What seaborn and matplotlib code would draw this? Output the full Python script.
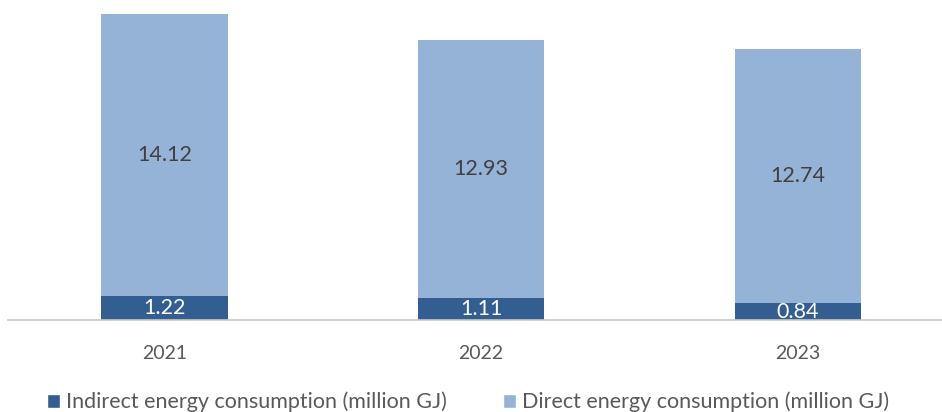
import matplotlib
matplotlib.use("Agg")
import matplotlib.pyplot as plt
import pandas as pd
import seaborn as sns
from matplotlib.patches import Patch

years = ["2021", "2022", "2023"]
indirect = [1.22, 1.11, 0.84]
direct = [14.12, 12.93, 12.74]
series_labels = ["Indirect energy consumption (million GJ)", "Direct energy consumption (million GJ)"]

DARK = "#335E91"
LIGHT = "#95B3D7"

sns.set_theme(style="white")
plt.rcParams["font.family"] = ["Lato", "DejaVu Sans"]

df = pd.DataFrame({"year": years, "indirect": indirect, "direct": direct})
df["total"] = df["indirect"] + df["direct"]

fig = plt.figure(figsize=(9.42, 4.12), dpi=100)
ax = fig.add_axes([0.008, 92 / 412, 0.992, 320 / 412])

# stacked bars: totals in light, indirect overlaid in dark
sns.barplot(data=df, x="year", y="total", color=LIGHT, width=0.40, saturation=1,
            linewidth=0, ax=ax)
sns.barplot(data=df, x="year", y="indirect", color=DARK, width=0.40, saturation=1,
            linewidth=0, ax=ax)

for i, (ind, dr) in enumerate(zip(indirect, direct)):
    ax.text(i, ind / 2, f"{ind:.2f}", ha="center", va="center", color="white",
            fontsize=15.5, clip_on=True)
    ax.text(i, ind + dr / 2, f"{dr:.2f}", ha="center", va="center", color="#404040",
            fontsize=15.5)

ax.set_xlim(-0.495, 2.455)
ax.set_ylim(0, 16.04)
ax.set_xlabel("")
ax.set_ylabel("")
ax.set_yticks([])
for side in ["top", "right", "left"]:
    ax.spines[side].set_visible(False)
ax.spines["bottom"].set_color("#C8C8C8")
ax.spines["bottom"].set_linewidth(1.2)
ax.tick_params(axis="x", length=0, pad=18, labelsize=14, labelcolor="#595959")

handles = [Patch(facecolor=DARK, label=series_labels[0]),
           Patch(facecolor=LIGHT, label=series_labels[1])]
fig.legend(handles=handles, loc="center", bbox_to_anchor=(0.497, 10 / 412), ncol=2,
           frameon=False, fontsize=15.5, handlelength=0.6, handleheight=0.6,
           handletextpad=0.3, columnspacing=2.6, labelcolor="#595959")

fig.savefig("out.png", dpi=100)
plt.close(fig)
